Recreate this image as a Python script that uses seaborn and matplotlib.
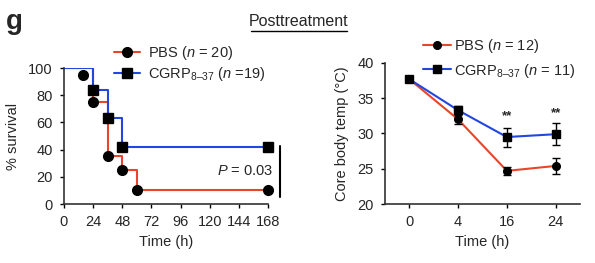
import matplotlib
matplotlib.use("Agg")
import matplotlib.pyplot as plt
from matplotlib.lines import Line2D
import seaborn as sns
import pandas as pd
import numpy as np

sns.set_style("ticks")
plt.rcParams['font.family'] = ['Liberation Sans', 'DejaVu Sans']
plt.rcParams['mathtext.fontset'] = 'custom'
plt.rcParams['mathtext.rm'] = 'Liberation Sans'
plt.rcParams['mathtext.it'] = 'Liberation Sans:italic'
plt.rcParams['mathtext.bf'] = 'Liberation Sans:bold'

RED = "#E8452A"
BLUE = "#2346E0"

# ---- survival data (left panel) ----
pbs_step_t = [0, 24, 36, 48, 60, 168]
pbs_step_s = [100, 75, 35, 25, 10, 10]
pbs_mark_t = [16, 24, 36, 48, 60, 168]
pbs_mark_s = [95, 75, 35, 25, 10, 10]

cgrp_step_t = [0, 24, 36, 48, 168]
cgrp_step_s = [100, 84, 63, 42, 42]
cgrp_mark_t = [24, 36, 48, 168]
cgrp_mark_s = [84, 63, 42, 42]

surv_ticks = [0, 24, 48, 72, 96, 120, 144, 168]

# ---- temperature data (right panel) ----
temp_times = ["0", "4", "16", "24"]
pbs_temp = [37.7, 32.0, 24.7, 25.4]
pbs_err = [0.2, 0.6, 0.6, 1.15]
cgrp_temp = [37.7, 33.3, 29.5, 29.9]
cgrp_err = [0.2, 0.6, 1.35, 1.6]
star_pos = [2, 3]
star_y = [32.1, 32.45]

fig = plt.figure(figsize=(5.95, 2.63), dpi=100)
W, H = 595, 263
def ax_rect(x0, y0, x1, y1):
    return [x0 / W, 1 - y1 / H, (x1 - x0) / W, (y1 - y0) / H]

ax1 = fig.add_axes(ax_rect(64, 68, 268, 204))
ax2 = fig.add_axes(ax_rect(385, 63, 580, 204))

FS = 10.5
# Left panel
sns.lineplot(x=pbs_step_t, y=pbs_step_s, ax=ax1, color=RED, lw=1.5,
             drawstyle='steps-post', estimator=None, sort=False)
sns.lineplot(x=cgrp_step_t, y=cgrp_step_s, ax=ax1, color=BLUE, lw=1.5,
             drawstyle='steps-post', estimator=None, sort=False)
ax1.plot(cgrp_mark_t, cgrp_mark_s, ls='none', marker='s', ms=7, color='black', clip_on=False, zorder=5)
ax1.plot(pbs_mark_t, pbs_mark_s, ls='none', marker='o', ms=7, color='black', clip_on=False, zorder=5)
ax1.set_xlim(0, 168)
ax1.set_ylim(0, 100)
ax1.set_xticks(surv_ticks)
ax1.set_yticks([0, 20, 40, 60, 80, 100])
ax1.set_xlabel("Time (h)", fontsize=FS, labelpad=4)
ax1.set_ylabel("% survival", fontsize=FS, labelpad=6)
ax1.text(172, 24.5, "$P$ = 0.03", ha='right', va='center', fontsize=FS)
ax1.plot([178, 178], [43, 5], color='black', lw=1.5, clip_on=False)

h1 = [Line2D([], [], color=RED, lw=1.5, marker='o', ms=7, mfc='black', mec='black'),
      Line2D([], [], color=BLUE, lw=1.5, marker='s', ms=7, mfc='black', mec='black')]
fig.legend(h1, ["PBS ($n$ = 20)", "CGRP$_{8\u201337}$ ($n$ =19)"],
           loc='upper left', bbox_to_anchor=(114 / W, 1 - 44 / H), frameon=False,
           fontsize=FS, handlelength=1.8, handletextpad=0.55, labelspacing=0.2,
           borderpad=0, borderaxespad=0)

# Right panel
xpos = list(range(len(temp_times)))
sns.lineplot(x=xpos, y=pbs_temp, ax=ax2, color=RED, lw=1.5, estimator=None)
sns.lineplot(x=xpos, y=cgrp_temp, ax=ax2, color=BLUE, lw=1.5, estimator=None)
ax2.errorbar(xpos, cgrp_temp, yerr=cgrp_err, fmt='s', ms=5.5, color='black', capsize=3, elinewidth=1, zorder=5)
ax2.errorbar(xpos, pbs_temp, yerr=pbs_err, fmt='o', ms=5.5, color='black', capsize=3, elinewidth=1, zorder=5)
for xp, yp in zip(star_pos, star_y):
    ax2.text(xp, yp, "**", ha='center', va='baseline', fontsize=9.5, fontweight='bold')
ax2.set_xlim(-0.5, 3.5)
ax2.set_ylim(20, 40)
ax2.set_xticks(xpos)
ax2.set_xticklabels(temp_times)
ax2.set_yticks([20, 25, 30, 35, 40])
ax2.set_xlabel("Time (h)", fontsize=FS, labelpad=4)
ax2.set_ylabel("Core body temp (°C)", fontsize=FS, labelpad=6)

h2 = [Line2D([], [], color=RED, lw=1.5, marker='o', ms=5.5, mfc='black', mec='black'),
      Line2D([], [], color=BLUE, lw=1.5, marker='s', ms=5.5, mfc='black', mec='black')]
fig.legend(h2, ["PBS ($n$ = 12)", "CGRP$_{8\u201337}$ ($n$ = 11)"],
           loc='upper left', bbox_to_anchor=(423 / W, 1 - 37 / H), frameon=False,
           fontsize=FS, handlelength=1.9, handletextpad=0.25, labelspacing=0.45,
           borderpad=0, borderaxespad=0)

for ax in (ax1, ax2):
    sns.despine(ax=ax)
    ax.tick_params(labelsize=FS, length=3, width=1, pad=5, color='black')
    for s in ('left', 'bottom'):
        ax.spines[s].set_linewidth(1.2)
        ax.spines[s].set_color('#333333')

fig.text(6 / W, 1 - 22 / H, "g", fontsize=20, fontweight='bold', ha='left', va='center')
fig.text(299 / W, 1 - 21 / H, "Posttreatment", fontsize=11.5, ha='center', va='center')
fig.add_artist(Line2D([251 / W, 347 / W], [1 - 31 / H, 1 - 31 / H], color='black', lw=1,
                      transform=fig.transFigure))

fig.savefig("out.png", dpi=100)
